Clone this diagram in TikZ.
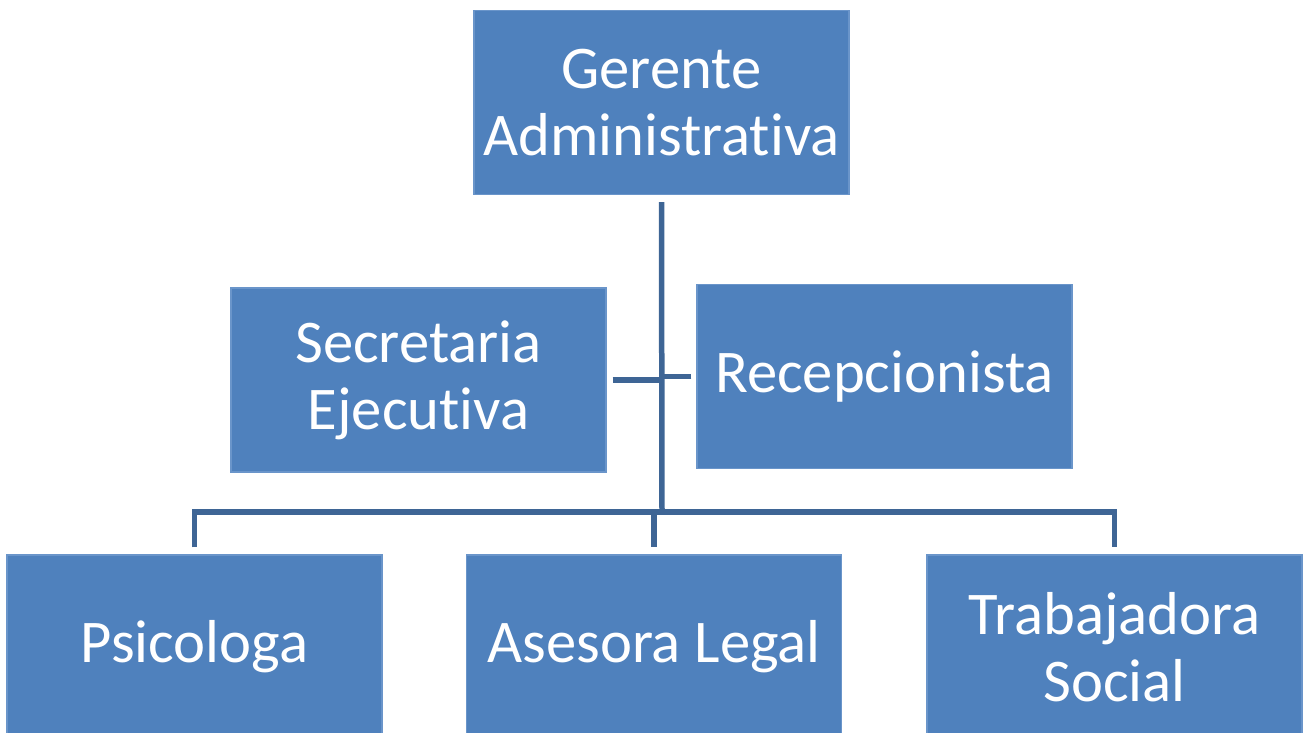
\documentclass[tikz,border=0pt]{standalone}
\usepackage{fontspec}
\setmainfont[Ligatures={NoCommon}]{Carlito}
\usetikzlibrary{positioning}

\definecolor{cajaazul}{HTML}{4F81BD}
\definecolor{bordeazul}{HTML}{6A95CA}
\definecolor{lineaazul}{HTML}{3E6595}

\tikzset{
  cargo/.style={rectangle, fill=cajaazul, draw=bordeazul, line width=0.8pt,
    text=white, align=center, inner sep=0pt,
    minimum width=7.5cm, minimum height=3.68cm,
    font=\fontsize{34.5}{38}\selectfont},
  linea/.style={draw=lineaazul, line width=0.11cm, line join=miter}
}

\begin{document}
\begin{tikzpicture}[x=0.02cm,y=-0.02cm]
  \clip (0,0) rectangle (1309,733);
  \useasboundingbox (0,0) rectangle (1309,733);

  % cajas
  \node[cargo] (gerente) at (661.5,102.5) {Gerente\\Administrativa};
  \node[cargo] (secretaria) at (418.5,380) {Secretaria\\Ejecutiva};
  \node[cargo] (recepcion) at (884.5,376.5) {Recepcionista};
  \node[cargo] (psicologa) at (194.5,647) {Psicologa};
  \node[cargo] (asesora) at (654,647) {Asesora Legal};
  \node[cargo] (trabajadora) at (1114.5,647) {Trabajadora\\Social};

  \coordinate (centro) at (662,512);

  % lineas
  \draw[linea] ([yshift=-0.14cm]gerente.south) -- (centro);
  \draw[linea] ([xshift=0.12cm]secretaria.east) -- (secretaria.east -| centro);
  \draw[linea] ([xshift=-0.1cm]recepcion.west) -- (recepcion.west -| centro);
  \draw[linea] ([yshift=0.14cm]psicologa.north) -- (psicologa.north |- centro)
    -- (trabajadora.north |- centro) -- ([yshift=0.14cm]trabajadora.north);
  \draw[linea] (asesora.north |- centro) -- ([yshift=0.14cm]asesora.north);
\end{tikzpicture}
\end{document}
